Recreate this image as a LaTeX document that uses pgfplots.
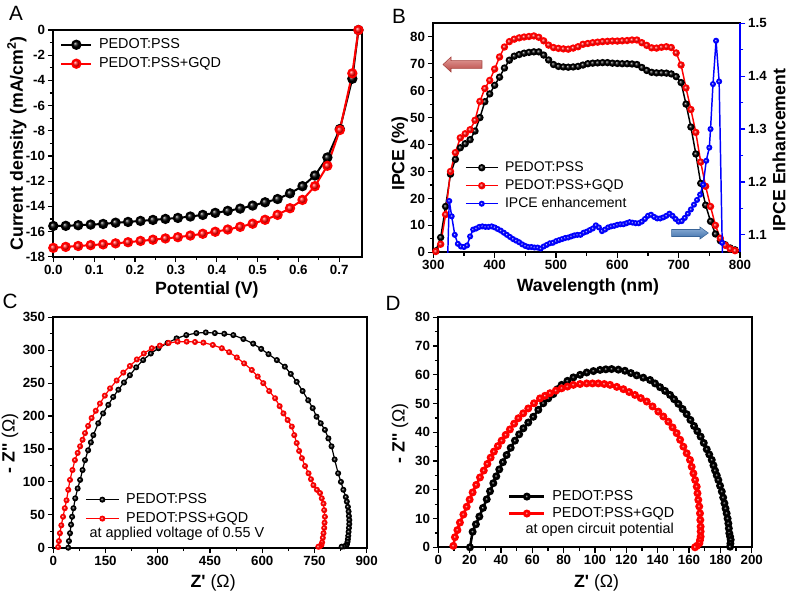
\documentclass[border=0pt]{standalone}
\usepackage{pgfplots}
\pgfplotsset{compat=1.18}
\usepackage{fontspec}
\setmainfont{Liberation Sans}
\newcommand\tickfont{\bfseries\fontsize{10}{12}\selectfont}
\newcommand\labfont{\bfseries\fontsize{13.3}{15}\selectfont}
\newcommand\legfont{\fontsize{10.8}{12}\selectfont}
\definecolor{arrred}{RGB}{205,80,75}
\definecolor{arrblue}{RGB}{70,125,190}
\pgfplotsset{
  panel/.style={
    scale only axis,
    axis line style={line width=1.3pt},
    tick style={line width=0.9pt, black},
    tick align=outside,
    major tick length=4pt,
    minor tick length=2.5pt,
    xtick pos=left, ytick pos=left,
    tick label style={font=\tickfont, inner sep=2pt},
    /pgf/number format/assume math mode=true,
    label style={font=\labfont},
    legend cell align=left,
    legend style={draw=none, fill=none, font=\legfont, inner sep=0pt,
      nodes={inner sep=0pt, text height=7.8pt, text depth=2pt},
      /tikz/every odd column/.append style={column sep=5pt}},
  },
  blk/.style={black, mark=ball, mark options={ball color=black, draw=none}},
  rd/.style={red, mark=ball, mark options={ball color=red, draw=none}},
  bl/.style={blue, mark=ball, mark options={ball color=blue, draw=none}},
}
\begin{document}
\begin{tikzpicture}[x=0.75pt,y=0.75pt]
\useasboundingbox (0,0) rectangle (787,594);

% ---------------- Panel A ----------------
\begin{axis}[panel,
  at={(39.98pt,252.98pt)}, anchor=south west, width=231.3pt, height=170pt,
  xmin=0, xmax=0.755, ymin=-18, ymax=0,
  xtick={0,0.1,...,0.7}, minor x tick num=1,
  ytick={-18,-16,...,0}, minor y tick num=1,
  xticklabel style={/pgf/number format/.cd, fixed, fixed zerofill, precision=1},
  xlabel={Potential (V)}, ylabel={Current density (mA/cm\textsuperscript{2})},
  xlabel style={at={(axis description cs:0.498,-0.147)}, anchor=center},
  ylabel style={at={(axis description cs:-0.118,0.5)}, anchor=center},
  legend image code/.code={\draw[mark repeat=2,mark phase=2] plot coordinates {(0pt,0pt) (11.25pt,0pt) (22.5pt,0pt)};},
  legend style={at={(axis description cs:0.022,0.965)}, anchor=north west, row sep=4.4pt},
]
\addplot[blk, line width=1.5pt, mark size=3.1pt] coordinates {
(0,-15.56) (0.0305,-15.55) (0.061,-15.5) (0.0915,-15.45) (0.122,-15.4) (0.1525,-15.3)
(0.183,-15.24) (0.2135,-15.16) (0.244,-15.08) (0.2745,-15.0) (0.305,-14.92) (0.3355,-14.81)
(0.366,-14.68) (0.3965,-14.52) (0.427,-14.36) (0.4575,-14.18) (0.488,-13.94) (0.5185,-13.68)
(0.549,-13.42) (0.5795,-12.97) (0.61,-12.4) (0.6405,-11.55) (0.671,-10.12) (0.7015,-7.86)
(0.732,-3.87) (0.747,0)};
\addlegendentry{PEDOT:PSS}
\addplot[rd, line width=1.5pt, mark size=3.1pt] coordinates {
(0,-17.3) (0.0305,-17.22) (0.061,-17.15) (0.0915,-17.08) (0.122,-17.02) (0.1525,-16.94)
(0.183,-16.85) (0.2135,-16.75) (0.244,-16.65) (0.2745,-16.55) (0.305,-16.45) (0.3355,-16.32)
(0.366,-16.18) (0.3965,-16.02) (0.427,-15.84) (0.4575,-15.63) (0.488,-15.38) (0.5185,-15.07)
(0.549,-14.68) (0.5795,-14.15) (0.61,-13.49) (0.6405,-12.4) (0.671,-10.78) (0.7015,-7.94)
(0.732,-3.44) (0.747,0)};
\addlegendentry{PEDOT:PSS+GQD}
\end{axis}

% ---------------- Panel B (left axis) ----------------
\begin{axis}[panel,
  at={(324.98pt,256.28pt)}, anchor=south west, width=230pt, height=171.75pt,
  xmin=300, xmax=800, ymin=0, ymax=85,
  xtick={300,400,...,800}, minor x tick num=1,
  ytick={0,10,...,80}, minor y tick num=1,
  xlabel={Wavelength (nm)}, ylabel={IPCE (\%)},
  xlabel style={at={(axis description cs:0.504,-0.152)}, anchor=center},
  ylabel style={at={(axis description cs:-0.109,0.43)}, anchor=center},
]
\addplot[blk, line width=1.1pt, mark size=2.2pt] coordinates {
(304,0.5) (312,5.5) (320,17) (328,29) (336,34.5) (344,38.8) (352,40.3) (360,41.8)
(368,45) (376,50) (384,55.9) (392,58.8) (400,62) (408,65) (416,68.4) (424,71.3)
(432,72.8) (440,73.4) (448,73.9) (456,74.2) (464,74.4) (472,74.4) (480,73.2) (488,71.4)
(496,69.7) (504,69.0) (512,68.8) (520,68.7) (528,68.8) (536,69.0) (544,69.5) (552,70.0)
(560,70.2) (568,70.3) (576,70.4) (584,70.4) (592,70.2) (600,70.1) (608,70.0) (616,70.0)
(624,69.9) (632,69.7) (640,68.6) (648,67.5) (656,66.8) (664,66.6) (672,66.6) (680,66.5)
(688,66.2) (696,65.2) (704,63) (712,55) (720,46.5) (728,36.5) (736,25.6) (744,17.5)
(752,11.5) (760,6.8) (768,4.3) (776,2.8) (784,1.6) (792,0.9)};
\addplot[rd, line width=1.1pt, mark size=2.2pt] coordinates {
(304,0.3) (312,3) (320,14) (328,30) (336,37) (344,42.5) (352,44) (360,45.5)
(368,49) (376,56) (384,60.8) (392,63.8) (400,68) (408,72.5) (416,76.2) (424,78.2)
(432,79.1) (440,79.6) (448,79.9) (456,80.1) (464,80.3) (472,79.8) (480,78.5) (488,76.9)
(496,76.0) (504,75.7) (512,75.5) (520,75.4) (528,75.8) (536,76.3) (544,77.2) (552,77.5)
(560,77.8) (568,78) (576,78.2) (584,78.3) (592,78.4) (600,78.4) (608,78.5) (616,78.6)
(624,78.8) (632,78.8) (640,77.8) (648,76.8) (656,75.9) (664,75.8) (672,76.1) (680,76.3)
(688,76) (696,74) (704,69.5) (712,61) (720,53) (728,44.5) (736,33.5) (744,24.5)
(752,17) (760,10) (768,5.2) (776,2.6) (784,1.3) (792,0.6)};
\end{axis}

% ---------------- Panel B (right axis) ----------------
\begin{axis}[panel,
  at={(324.98pt,256.28pt)}, anchor=south west, width=230pt, height=171.75pt,
  xmin=300, xmax=800, ymin=1.067, ymax=1.5,
  axis x line=none, axis y line*=right,
  y axis line style={blue, line width=1.3pt},
  ytick={1.1,1.2,1.3,1.4,1.5}, minor y tick num=1,
  ytick pos=right,
  ytick style={blue, line width=0.9pt},
  yticklabel style={/pgf/number format/.cd, fixed, fixed zerofill, precision=1},
  ylabel={IPCE Enhancement},
  ylabel style={at={(axis description cs:1.127,0.447)}, anchor=center},
  legend image code/.code={\draw[mark repeat=2,mark phase=2] plot coordinates {(0pt,0pt) (11.9pt,0pt) (23.8pt,0pt)};},
  legend style={at={(axis description cs:0.103,0.399)}, anchor=north west, row sep=3.7pt, font=\fontsize{10.5}{12}\selectfont},
]
\addlegendimage{blk, line width=1.1pt, mark size=2.2pt}
\addlegendentry{PEDOT:PSS}
\addlegendimage{rd, line width=1.1pt, mark size=2.2pt}
\addlegendentry{PEDOT:PSS+GQD}
\addplot[blue, line width=1.1pt, forget plot] coordinates {(322,1.0) (326,1.164)};
\addplot[blue, line width=1.1pt, forget plot] coordinates {(771,1.085) (772,1.0)};
\addplot[bl, line width=1.1pt, mark size=1.7pt] coordinates {
(326,1.164) (330,1.135) (335,1.100) (340,1.083) (345,1.078) (350,1.077) (355,1.080)
(360,1.097) (365,1.110) (370,1.112) (375,1.115) (380,1.116) (385,1.115) (390,1.115)
(395,1.116) (400,1.114) (405,1.111) (410,1.108) (415,1.104) (420,1.100) (425,1.096)
(430,1.092) (435,1.089) (440,1.086) (445,1.082) (450,1.079) (455,1.077) (460,1.077)
(465,1.076) (470,1.076) (475,1.074) (480,1.078) (485,1.081) (490,1.084) (495,1.085)
(500,1.088) (505,1.090) (510,1.092) (515,1.094) (520,1.095) (525,1.097) (530,1.099)
(535,1.100) (540,1.100) (545,1.104) (550,1.106) (555,1.109) (560,1.112) (565,1.118)
(570,1.114) (575,1.107) (580,1.110) (585,1.114) (590,1.116) (595,1.117) (600,1.119)
(605,1.120) (610,1.120) (615,1.122) (620,1.124) (625,1.123) (630,1.122) (635,1.122)
(640,1.125) (645,1.130) (650,1.136) (655,1.138) (660,1.134) (665,1.131) (670,1.131)
(675,1.133) (680,1.136) (685,1.140) (690,1.136) (695,1.130) (700,1.125) (705,1.126)
(710,1.132) (715,1.140) (720,1.148) (725,1.157) (730,1.166) (735,1.176) (740,1.195)
(745,1.240) (750,1.265) (752,1.300) (756,1.385) (761,1.467) (766,1.390) (771,1.085)};
\addlegendentry{IPCE enhancement}
\end{axis}

% arrows in B
\shade[top color=arrred!55, bottom color=arrred!90!black, draw=arrred!80!black, line width=0.4pt]
  (443,529.5) -- (451,537) -- (451,533.3) -- (482,533.3) -- (482,525.7) -- (451,525.7) -- (451,522) -- cycle;
\shade[top color=arrblue!60, bottom color=arrblue!90!black, draw=arrblue!80!black, line width=0.4pt]
  (708.3,361) -- (700,367) -- (700,364.5) -- (671.7,364.5) -- (671.7,357.5) -- (700,357.5) -- (700,355) -- cycle;

% ---------------- Panel C ----------------
\begin{axis}[panel,
  at={(39.98pt,34.73pt)}, anchor=south west, width=235.05pt, height=172.8pt,
  xmin=0, xmax=900, ymin=0, ymax=350,
  xtick={0,150,...,900}, minor x tick num=1,
  ytick={0,50,...,350}, minor y tick num=1,
  xlabel={Z\textquotesingle\ {\mdseries(Ω)}}, ylabel={- Z\textquotesingle\textquotesingle\ {\mdseries(Ω)}},
  xlabel style={at={(axis description cs:0.51,-0.153)}, anchor=center},
  ylabel style={at={(axis description cs:-0.138,0.453)}, anchor=center},
  legend image code/.code={\draw[mark repeat=2,mark phase=2] plot coordinates {(0pt,0pt) (12.4pt,0pt) (24.8pt,0pt)};},
  legend style={at={(axis description cs:0.101,0.238)}, anchor=north west, row sep=4.4pt},
]
\addplot[blk, line width=0.9pt, mark size=1.8pt] coordinates {
(43,0) (45,10) (48,22) (51,35) (54,47) (58,60) (63,75) (70,90) (77,103) (84,118) (91,133)
(100,148) (108,160) (115,171) (129,189) (143,204) (158,217) (172,229) (187,240) (203,251)
(220,262) (238,274) (258,285) (280,295) (302,303) (328,311) (354,318) (382,323) (411,326)
(438,327) (464,326) (491,325) (517,323) (546,317) (574,310) (597,302) (618,294) (642,285)
(665,275) (682,264) (699,252) (716,238) (732,224) (745,212) (756,199) (768,189) (780,179)
(790,166) (799,154) (808,134) (818,113) (826,100) (833,88) (840,77) (843,70) (846,62)
(848,55) (849,48) (850,42) (850,36) (849,30) (848,24) (847,18) (846,13) (845,9) (843,5)
(841,3) (835,2) (828,1.5)};
\addlegendentry{PEDOT:PSS}
\addplot[rd, line width=0.9pt, mark size=1.8pt] coordinates {
(14,1) (16,10) (19,22) (23,34) (28,47) (33,60) (38,72) (43,88) (48,103) (55,118) (62,133)
(70,144) (77,154) (84,164) (91,174) (100,185) (110,197) (122,208) (134,219) (148,231)
(163,242) (182,254) (201,266) (220,276) (240,286) (260,295) (283,303) (306,307) (331,311)
(357,313) (383,313) (407,312.5) (431,311.5) (458,308) (484,303) (505,297) (527,289)
(548,280) (570,270) (587,260) (603,250) (620,238) (637,227) (650,215) (661,204) (673,194)
(685,184) (692,171) (699,159) (706,147) (714,136) (723,124) (733,113) (740,104) (747,95)
(757,88) (766,83) (771,75) (776,67) (778,57) (780,47) (779,38) (778,30) (776,22) (774,15)
(772,8) (770,4) (765,2) (761,1.5)};
\addlegendentry{PEDOT:PSS+GQD}
\end{axis}
\node[anchor=west, font=\legfont] at (85,60) {at applied voltage of 0.55 V};

% ---------------- Panel D ----------------
\begin{axis}[panel,
  at={(328.73pt,35.03pt)}, anchor=south west, width=235.05pt, height=172.5pt,
  xmin=0, xmax=200, ymin=0, ymax=80,
  xtick={0,20,...,200}, minor x tick num=1,
  ytick={0,10,...,80}, minor y tick num=1,
  xlabel={Z\textquotesingle\ {\mdseries(Ω)}}, ylabel={- Z\textquotesingle\textquotesingle\ {\mdseries(Ω)}},
  xlabel style={at={(axis description cs:0.505,-0.155)}, anchor=center},
  ylabel style={at={(axis description cs:-0.122,0.496)}, anchor=center},
  legend image code/.code={\draw[mark repeat=2,mark phase=2] plot coordinates {(0pt,0pt) (13.1pt,0pt) (26.2pt,0pt)};},
  legend style={at={(axis description cs:0.222,0.25)}, anchor=north west, row sep=2.9pt},
]
\addplot[blk, line width=1.9pt, mark size=2pt] coordinates {
(20.2,0) (21.9,5.4) (24,8) (26.2,10.7) (28.5,13.7) (30.9,16.7) (33,19.5) (35.1,22.3)
(37,24.7) (38.9,27.1) (41.2,29.6) (43.6,32.1) (46.2,34.6) (48.9,37.1) (51.6,39.3) (54.3,41.4)
(57.4,43.4) (60.6,45.4) (63.8,47.8) (67,50.1) (70.2,51.8) (73.4,53.3) (76,55) (78.7,56.5)
(82.4,57.9) (86.2,59.1) (90.5,60.0) (94.7,60.8) (99,61.3) (103.2,61.7) (106.9,61.9)
(110.6,62.0) (114.9,61.8) (119.1,61.4) (122.9,60.6) (126.6,59.8) (130.8,59.0) (135.1,58.2)
(138.3,57.0) (141.5,55.7) (144.7,54.4) (147.9,53) (150.5,51.5) (153.2,49.9) (155.9,48.1)
(158.5,46.3) (160.9,44.3) (163.2,42.2) (165.3,40.4) (167.4,38.5) (169.4,36.3) (171.3,34.1)
(172.9,32.3) (174.5,30.4) (175.6,28.5) (176.6,26.7) (177.7,25) (178.7,23.4) (179.8,21.4)
(180.9,19.4) (181.8,17.3) (182.6,15.3) (183.3,13.5) (184,11.8) (184.6,10) (185.1,8.3)
(185.4,6.6) (185.7,4.9) (186.2,3.7) (186.6,2.6) (186.4,1.3) (186.2,0.2)};
\addlegendentry{PEDOT:PSS}
\addplot[rd, line width=1.9pt, mark size=2pt] coordinates {
(9.6,0.5) (10.6,3.5) (12.2,6) (13.8,8.6) (16,11.4) (18.1,14.1) (20,16.6) (21.9,19.1)
(24.2,21.7) (26.6,24.3) (29,26.7) (31.3,29) (33.4,31.2) (35.5,33.3) (38,35.2) (40.4,37.1)
(43,39.1) (45.7,41) (48.4,43) (51.1,44.9) (54.2,46.6) (57.4,48.3) (61.1,50.1) (64.9,51.8)
(68.1,52.7) (71.3,53.6) (75,54.5) (78.7,55.3) (82.4,55.9) (86.2,56.5) (90.5,56.8) (94.7,57)
(98.4,57) (102.1,57) (105.9,56.8) (109.6,56.5) (113.9,55.8) (118.1,55) (121.8,54) (125.5,53)
(129.2,51.9) (133,50.7) (136.7,49) (140.4,47.2) (143.6,45.5) (146.8,43.7) (149.5,41.7)
(152.1,39.7) (154.3,37.4) (156.4,35) (158.5,32.7) (160.6,30.4) (161.7,28) (162.8,25.7)
(163.9,23.4) (164.9,21.1) (165.4,18.8) (165.9,16.5) (166.5,14.2) (167,11.8) (167.2,9.5)
(167.4,7.2) (167.4,5.5) (167.4,3.7) (167,2.5) (166.6,1.4) (165,0.5) (163.8,0)};
\addlegendentry{PEDOT:PSS+GQD}
\end{axis}
\node[anchor=west, font=\legfont] at (521,64) {at open circuit potential};

% panel letters
\node[font=\fontsize{15.5}{17}\selectfont] at (16,580.3) {A};
\node[font=\fontsize{15.5}{17}\selectfont] at (399,577.3) {B};
\node[font=\fontsize{15.5}{17}\selectfont] at (10,292.5) {C};
\node[font=\fontsize{15.5}{17}\selectfont] at (393,291) {D};
\end{tikzpicture}
\end{document}
